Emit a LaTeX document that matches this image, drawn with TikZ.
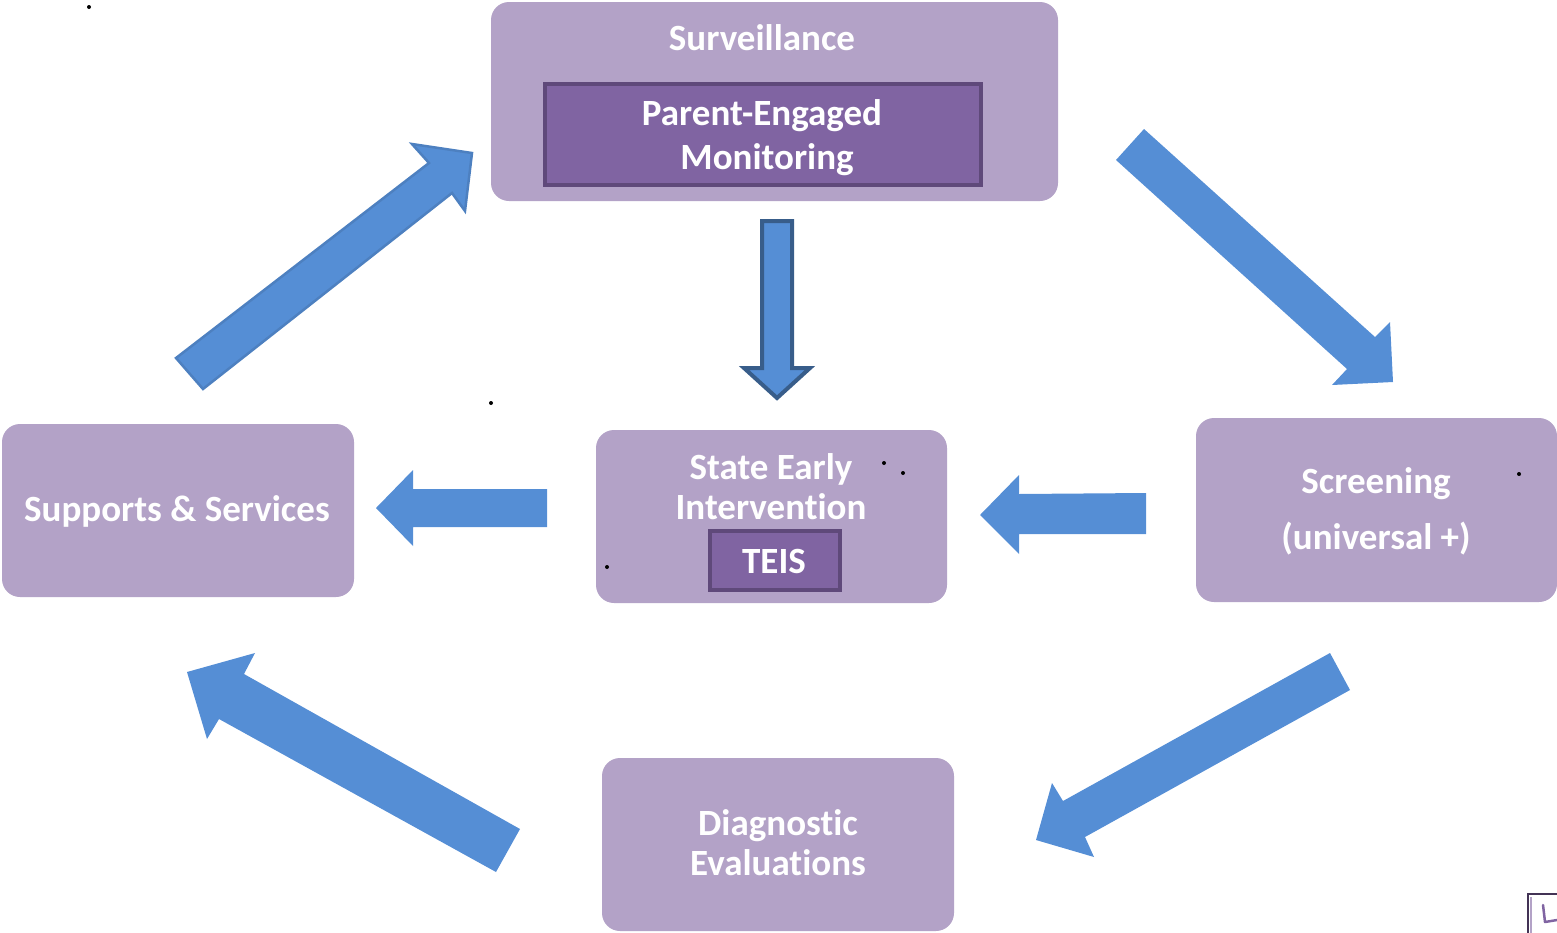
\documentclass[tikz,border=0pt]{standalone}
\usepackage{fontspec}
\setmainfont[Ligatures=NoCommon]{Carlito}
\definecolor{boxfill}{HTML}{B3A2C7}
\definecolor{innerfill}{HTML}{8064A2}
\definecolor{innerline}{HTML}{5F497A}
\definecolor{arrowfill}{HTML}{558ED5}
\definecolor{arrowdark}{HTML}{385D8A}
\definecolor{arrowedge}{HTML}{4D80C0}
\begin{document}
\begin{tikzpicture}[x=1pt,y=-1pt,
  stagebox/.style={draw=none,fill=boxfill,rounded corners=18pt,inner sep=0pt},
  tagbox/.style={draw=innerline,line width=4pt,fill=innerfill,inner sep=0pt},
  lbl/.style={text=white,font=\fontsize{37}{44}\selectfont\bfseries,anchor=base,inner sep=0pt},
  blockarrow/.style={fill=arrowfill,draw=none},
  dot/.style={fill=black,draw=none}]
\useasboundingbox (0,0) rectangle (1557,932);

% stage boxes
\node[stagebox,minimum width=567pt,minimum height=199pt] (surv) at (774.5,101.5) {};
\node[tagbox,minimum width=436pt,minimum height=101pt] (pem) at (763,134.5) {};
\node[stagebox,minimum width=352pt,minimum height=173pt] (supp) at (178,510.5) {};
\node[stagebox,minimum width=351pt,minimum height=173pt] (sei) at (771.5,516.5) {};
\node[tagbox,minimum width=130pt,minimum height=59pt] (teis) at (775,560.5) {};
\node[stagebox,minimum width=361pt,minimum height=184pt] (scr) at (1376.5,510) {};
\node[stagebox,minimum width=352pt,minimum height=173pt] (diag) at (778,844.5) {};

% labels
\node[lbl] (tsurv) at (762,50) {Surveillance};
\node[lbl] (tpem1) at (762,125) {Parent-Engaged};
\node[lbl] (tpem2) at (767,169) {Monitoring};
\node[lbl] (tsupp) at (177,521) {Supports \& Services};
\node[lbl] (tsei1) at (771,479) {State Early};
\node[lbl] (tsei2) at (771,519) {Intervention};
\node[lbl] (tteis) at (774,573) {TEIS};
\node[lbl] (tscr1) at (1376,493) {Screening};
\node[lbl] (tscr2) at (1376,549) {(universal +)};
\node[lbl] (tdiag1) at (778,835) {Diagnostic};
\node[lbl] (tdiag2) at (778,875) {Evaluations};

% block arrows between the stages
% surveillance -> state early intervention
\draw[fill=arrowfill,draw=arrowdark,line width=4pt,line join=miter]
  (762,221) -- (792,221) -- (792,368) -- (810,368) -- (777,398) -- (744,368) -- (762,368) -- cycle;
% supports -> surveillance
\draw[fill=arrowfill,draw=arrowedge,line width=2.5pt,line join=miter]
  (176,358) -- (429,163) -- (412,144) -- (472,153) -- (465,211) -- (452,193) -- (203,389) -- cycle;
% surveillance -> screening
\fill[blockarrow] (1144,129) -- (1375,337) -- (1390,322) -- (1393,382) -- (1332,385) -- (1347,369) -- (1116,160) -- cycle;
% screening -> state early intervention
\fill[blockarrow] (1146,493) -- (1019,494) -- (1019,475) -- (980,515) -- (1019,554) -- (1019,534) -- (1146,534) -- cycle;
% state early intervention -> supports
\fill[blockarrow] (547,489) -- (413,489) -- (413,470) -- (376,508) -- (413,546) -- (413,527) -- (547,527) -- cycle;
% screening -> diagnostic evaluations
\fill[blockarrow] (1330,653) -- (1063,801) -- (1052,783) -- (1036,840) -- (1094,857) -- (1085,837) -- (1350,690) -- cycle;
% diagnostic evaluations -> supports
\fill[blockarrow] (520,829) -- (244,674) -- (255,653) -- (187,672) -- (207,739) -- (219,719) -- (496,872) -- cycle;

% stray marks
\foreach \p in {(89,7),(491,403),(884,463),(903,473),(607,567),(1519,474)}
  \fill[dot] \p circle (2pt);
\draw[draw=innerline!70!black,line width=2.5pt] (1560,894) -- (1528,894) -- (1528,935);
\draw[draw=innerfill!60,line width=1.5pt] (1531,897) -- (1531,935);
\draw[draw=innerfill,line width=2.5pt,line cap=round,line join=round] (1543,905) -- (1545,922) -- (1557,920);
\end{tikzpicture}
\end{document}
